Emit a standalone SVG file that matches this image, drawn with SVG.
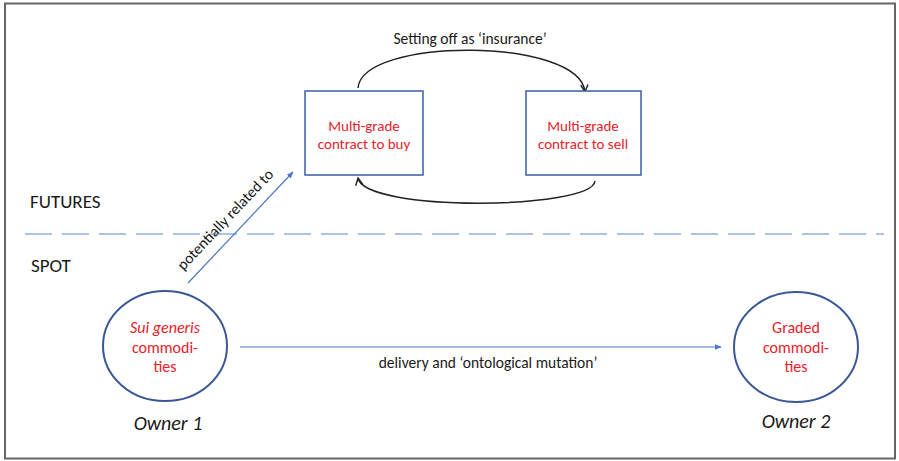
<svg xmlns="http://www.w3.org/2000/svg" width="899" height="461" viewBox="0 0 899 461">
<defs>
<style>
.t{font-family:Calibri,Lato,"Open Sans","Liberation Sans",sans-serif;}
.red{fill:#e8212a;font-size:15px;text-anchor:middle;}
.cr{fill:#e8212a;font-size:16px;text-anchor:middle;}
.blk{fill:#1a1a1a;font-size:15.5px;}
.own{fill:#1a1a1a;font-size:20px;font-style:italic;text-anchor:middle;}
.box{fill:#fff;stroke:#3b5ea6;stroke-width:1.5;}
.circ{fill:#fff;stroke:#3b5896;stroke-width:2;}
.blue{fill:none;stroke:#4a76c6;stroke-width:1.2;}
.arc{fill:none;stroke:#222;stroke-width:1.5;}
</style>
<marker id="ab" viewBox="0 0 10 10" refX="9" refY="5" markerWidth="7" markerHeight="7" orient="auto" markerUnits="userSpaceOnUse">
<path d="M0,1 L10,5 L0,9 z" fill="#4a76c6"/>
</marker>
<marker id="ak" viewBox="0 0 10 10" refX="9" refY="5" markerWidth="9" markerHeight="9" orient="auto" markerUnits="userSpaceOnUse">
<path d="M1,1 L9,5 L1,9" fill="none" stroke="#222" stroke-width="1.6"/>
</marker>
</defs>
<rect x="0" y="0" width="899" height="461" fill="#fff"/>
<rect x="5" y="3.5" width="890" height="455" fill="none" stroke="#666" stroke-width="2"/>
<line x1="25" y1="234" x2="884" y2="234" stroke="#93b0de" stroke-width="1.5" stroke-dasharray="27,10"/>
<text class="t" x="30" y="208" font-size="19" fill="#1a1a1a">FUTURES</text>
<text class="t" x="31" y="272" font-size="19" fill="#1a1a1a">SPOT</text>
<g id="connectors">
<path class="arc" d="M358,88 C362,37 580,37 585,92" marker-end="url(#ak)"/>
<path class="arc" d="M595,181 C592,210 364,212 358,178" marker-end="url(#ak)"/>
<line class="blue" x1="188" y1="283" x2="293" y2="172" marker-end="url(#ab)"/>
<line class="blue" x1="240" y1="347" x2="721" y2="347" marker-end="url(#ab)"/>
<text class="t blk" x="470" y="44" text-anchor="middle">Setting off as ‘insurance’</text>
<text class="t blk" x="488" y="368" text-anchor="middle">delivery and ‘ontological mutation’</text>
<text class="t blk" x="0" y="0" text-anchor="middle" transform="translate(229,223) rotate(-46.5)">potentially related to</text>
</g>
<g id="buy">
<rect class="box" x="305" y="91" width="118" height="84"/>
<text class="t red" x="364" y="131">Multi-grade</text>
<text class="t red" x="364" y="149">contract to buy</text>
</g>
<g id="sell">
<rect class="box" x="526" y="91" width="115" height="84"/>
<text class="t red" x="583" y="131">Multi-grade</text>
<text class="t red" x="583" y="149">contract to sell</text>
</g>
<g id="owner1">
<ellipse class="circ" cx="165" cy="346" rx="62" ry="55"/>
<text class="t cr" x="165" y="333" font-style="italic">Sui generis</text>
<text class="t cr" x="165" y="353">commodi-</text>
<text class="t cr" x="165" y="372">ties</text>
<text class="t own" x="168" y="430">Owner 1</text>
</g>
<g id="owner2">
<ellipse class="circ" cx="796" cy="347" rx="62" ry="55"/>
<text class="t cr" x="796" y="333">Graded</text>
<text class="t cr" x="796" y="353">commodi-</text>
<text class="t cr" x="796" y="372">ties</text>
<text class="t own" x="796" y="428">Owner 2</text>
</g>
</svg>
